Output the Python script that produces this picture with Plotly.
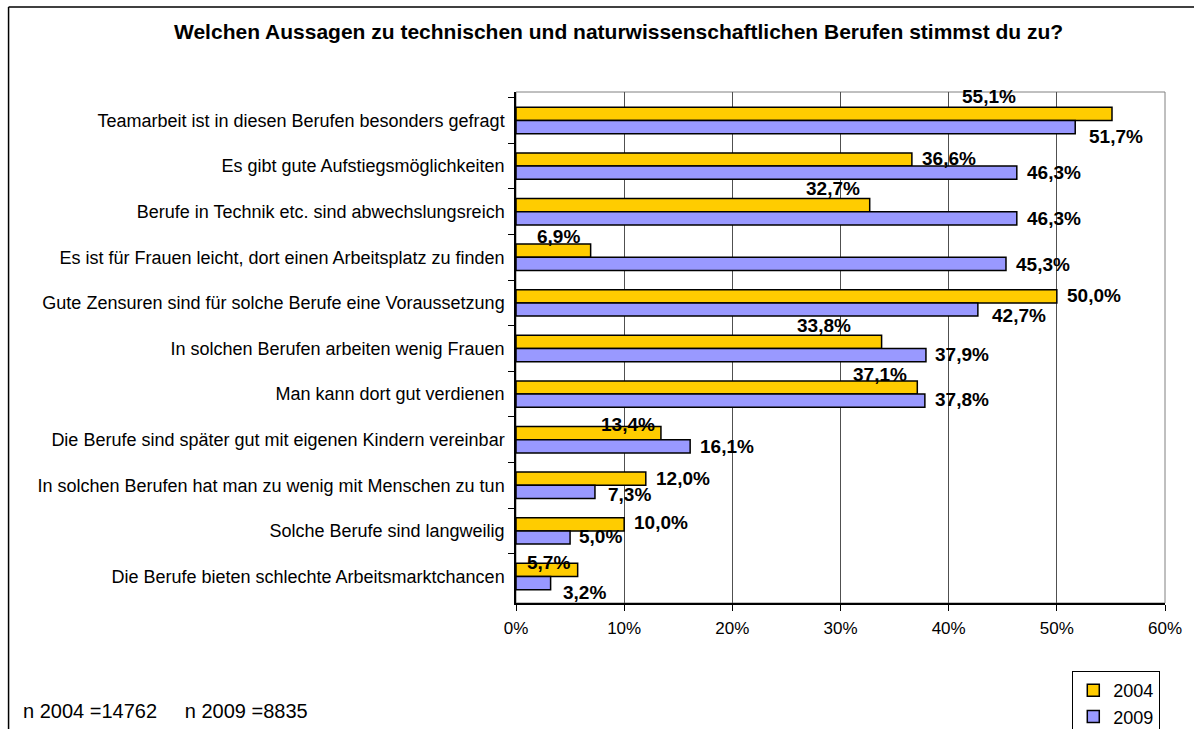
import plotly.graph_objects as go

categories = [
    "Teamarbeit ist in diesen Berufen besonders gefragt",
    "Es gibt gute Aufstiegsmöglichkeiten",
    "Berufe in Technik etc. sind abwechslungsreich",
    "Es ist für Frauen leicht, dort einen Arbeitsplatz zu finden",
    "Gute Zensuren sind für solche Berufe eine Voraussetzung",
    "In solchen Berufen arbeiten wenig Frauen",
    "Man kann dort gut verdienen",
    "Die Berufe sind später gut mit eigenen Kindern vereinbar",
    "In solchen Berufen hat man zu wenig mit Menschen zu tun",
    "Solche Berufe sind langweilig",
    "Die Berufe bieten schlechte Arbeitsmarktchancen",
]
values_2004 = [55.1, 36.6, 32.7, 6.9, 50.0, 33.8, 37.1, 13.4, 12.0, 10.0, 5.7]
values_2009 = [51.7, 46.3, 46.3, 45.3, 42.7, 37.9, 37.8, 16.1, 7.3, 5.0, 3.2]
x_ticks = [0, 10, 20, 30, 40, 50, 60]
title = "Welchen Aussagen zu technischen und naturwissenschaftlichen Berufen stimmst du zu?"
note = "n 2004 =14762\u00a0\u00a0\u00a0\u00a0\u00a0n 2009 =8835"

# label placement (pixel offsets: left edge from bar end, vertical from category centre)
offs_2004 = [(-152, 24), (8, 8), (-66, 23), (-56, 21), (8, 7), (-87, 23),
             (-66, 20), (-62, 15), (8, 7), (8, 8), (-53, 14)]
offs_2009 = [(12, -16), (8, -6), (8, -7), (8, -7), (12, -13), (7, -6),
             (8, -5), (8, -7), (11, -9), (7, -6), (10, -16)]

FONT = "Liberation Sans, Arial, sans-serif"
W, H = 1194, 760          # page viewport is 729 tall; the chart frame runs past it
L, R, T, B = 516, 1167, 92, 603

def px(xp):
    return (xp - L) / (R - L)

def py(yp):
    return (B - yp) / (B - T)

fig = go.Figure()
fig.add_trace(go.Bar(
    y=categories, x=values_2004, name="2004", orientation="h",
    marker=dict(color="#FFCC00", line=dict(color="black", width=1.5)),
))
fig.add_trace(go.Bar(
    y=categories, x=values_2009, name="2009", orientation="h",
    marker=dict(color="#9999FF", line=dict(color="black", width=1.5)),
))

def fmt(v):
    return f"{v:.1f}".replace(".", ",") + "%"

annotations = []
for vals, offs in ((values_2004, offs_2004), (values_2009, offs_2009)):
    for c, v, (dx, dy) in zip(categories, vals, offs):
        annotations.append(dict(
            x=v, y=c, xref="x", yref="y", text=fmt(v), showarrow=False,
            xanchor="left", yanchor="middle", xshift=dx, yshift=dy,
            font=dict(family=FONT, size=19, color="black", weight="bold"),
        ))

annotations.append(dict(
    x=px(619), y=py(31), xref="paper", yref="paper", text=f"<b>{title}</b>",
    showarrow=False, xanchor="center", yanchor="middle",
    font=dict(family=FONT, size=21, color="black"),
))
annotations.append(dict(
    x=px(19), y=py(711), xref="paper", yref="paper", text=note,
    showarrow=False, xanchor="left", yanchor="middle",
    font=dict(family=FONT, size=20, color="black"),
))

shapes = [
    # outer chart frame (left and top edges visible)
    dict(type="line", xref="paper", yref="paper",
         x0=px(7), x1=px(7), y0=py(H + 20), y1=py(7),
         line=dict(color="black", width=1.5), layer="below"),
    dict(type="line", xref="paper", yref="paper",
         x0=px(7), x1=px(W + 20), y0=py(7), y1=py(7),
         line=dict(color="black", width=1.5), layer="below"),
    # plot area border
    dict(type="rect", xref="paper", yref="paper", x0=0, x1=1, y0=0, y1=1,
         line=dict(color="#808080", width=1), layer="below"),
]

fig.update_layout(
    width=W, height=H,
    margin=dict(l=L, r=W - R, t=T, b=H - B, pad=0),
    paper_bgcolor="white", plot_bgcolor="white",
    barmode="group", bargap=0.42, bargroupgap=0,
    font=dict(family=FONT, size=16, color="black"),
    showlegend=True,
    legend=dict(
        x=px(1074), y=py(671), xanchor="left", yanchor="top",
        bordercolor="black", borderwidth=1, bgcolor="white",
        traceorder="normal", font=dict(size=18),
        itemwidth=30,
    ),
    annotations=annotations, shapes=shapes,
)
fig.update_xaxes(
    range=[0, 60], tickvals=x_ticks, ticktext=[f"{t}%" for t in x_ticks],
    showgrid=True, gridcolor="#505050", gridwidth=1,
    showline=True, linecolor="black", linewidth=1.5,
    ticks="outside", ticklen=6, tickcolor="black", ticklabelstandoff=3,
    zeroline=False, tickfont=dict(size=17),
)
fig.update_yaxes(
    autorange="reversed", type="category",
    showline=True, linecolor="black", linewidth=1.5,
    ticks="outside", ticklen=6, tickcolor="black", tickson="boundaries",
    showgrid=False, tickfont=dict(size=18), ticklabelstandoff=6,
)

fig.write_html(
    "out.html",
    config={"displayModeBar": False},
    post_script="document.body.style.margin='0';document.body.style.overflow='hidden';",
)
